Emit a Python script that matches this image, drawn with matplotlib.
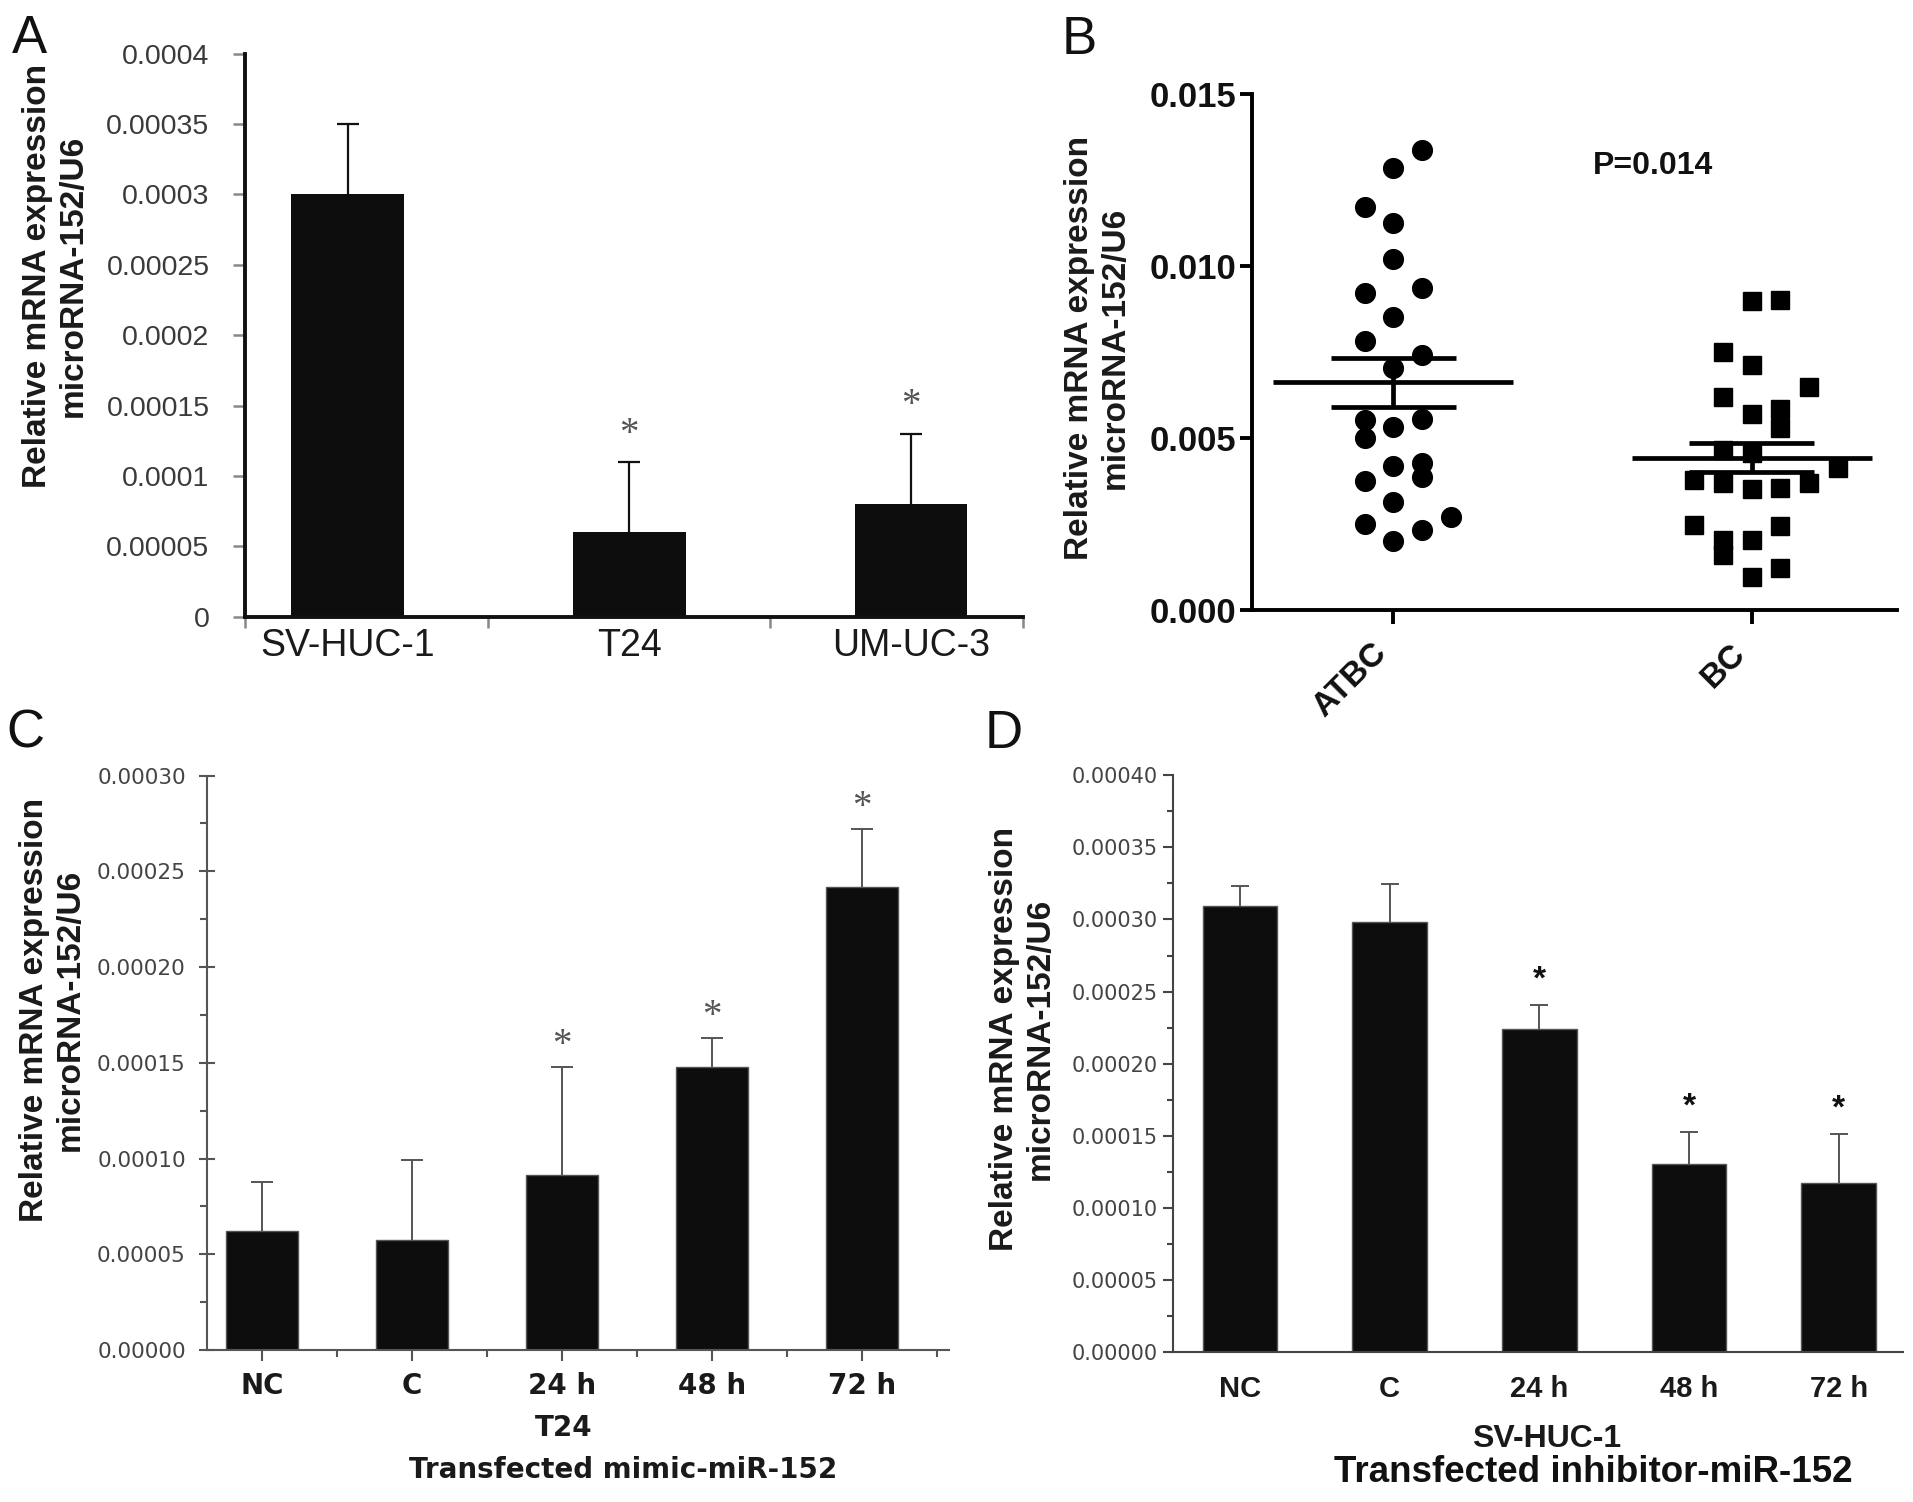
import matplotlib
matplotlib.use('Agg')
import matplotlib.pyplot as plt
import numpy as np
from matplotlib.textpath import TextPath
from matplotlib.font_manager import FontProperties
from matplotlib.ticker import FixedLocator

# ---------------- data ----------------
ylabel_text = 'Relative mRNA expression\nmicroRNA-152/U6'

# Panel A
a_cats = ['SV-HUC-1', 'T24', 'UM-UC-3']
a_vals = [0.00030, 0.00006, 0.00008]
a_err = [0.00005, 0.00005, 0.00005]
a_sig = ['', '*', '*']
a_yticks = [0, 0.00005, 0.0001, 0.00015, 0.0002, 0.00025, 0.0003, 0.00035, 0.0004]
a_yticklabels = ['0', '0.00005', '0.0001', '0.00015', '0.0002', '0.00025', '0.0003', '0.00035', '0.0004']

# Panel B
b_cats = ['ATBC', 'BC']
atbc_vals = [0.01338, 0.01284, 0.01172, 0.01124, 0.01021, 0.00921, 0.00935, 0.00851,
             0.00783, 0.00741, 0.00703, 0.00552, 0.00499, 0.00531, 0.00554, 0.00420,
             0.00428, 0.00386, 0.00375, 0.00315, 0.00249, 0.00271, 0.00234, 0.00202]
atbc_cols = [1, 0, -1, 0, 0, -1, 1, 0, -1, 1, 0, -1, -1, 0, 1, 0, 1, 1, -1, 0, -1, 2, 1, 0]
bc_vals = [0.00898, 0.00900, 0.00749, 0.00712, 0.00647, 0.00620, 0.00583, 0.00569,
           0.00528, 0.00465, 0.00455, 0.00412, 0.00378, 0.00368, 0.00351, 0.00354,
           0.00368, 0.00247, 0.00245, 0.00203, 0.00160, 0.00203, 0.00121, 0.00097]
bc_cols = [0, 1, -1, 0, 2, -1, 1, 0, 1, -1, 0, 3, -2, -1, 0, 1, 2, -2, 1, -1, -1, 0, 1, 0]
b_mean = [0.00662, 0.00443]
b_sem = [0.00071, 0.00043]
b_yticks = [0.000, 0.005, 0.010, 0.015]
b_yticklabels = ['0.000', '0.005', '0.010', '0.015']
b_ptext = 'P=0.014'

# Panel C
c_cats = ['NC', 'C', '24 h', '48 h', '72 h']
c_vals = [0.0000621, 0.0000576, 0.0000915, 0.0001477, 0.000242]
c_err = [0.0000256, 0.0000416, 0.0000562, 0.0000153, 0.0000300]
c_sig = ['', '', '*', '*', '*']
c_yticks = [0, 0.00005, 0.00010, 0.00015, 0.00020, 0.00025, 0.00030]
c_yticklabels = ['0.00000', '0.00005', '0.00010', '0.00015', '0.00020', '0.00025', '0.00030']
c_label1 = 'T24'
c_label2 = 'Transfected mimic-miR-152'

# Panel D
d_cats = ['NC', 'C', '24 h', '48 h', '72 h']
d_vals = [0.0003093, 0.0002980, 0.0002243, 0.0001307, 0.0001173]
d_err = [0.0000142, 0.0000265, 0.0000167, 0.0000220, 0.0000343]
d_sig = ['', '', '*', '*', '*']
d_yticks = [0, 0.00005, 0.00010, 0.00015, 0.00020, 0.00025, 0.00030, 0.00035, 0.00040]
d_yticklabels = ['0.00000', '0.00005', '0.00010', '0.00015', '0.00020', '0.00025',
                 '0.00030', '0.00035', '0.00040']
d_label1 = 'SV-HUC-1'
d_label2 = 'Transfected inhibitor-miR-152'

panel_letters = ['A', 'B', 'C', 'D']

# ---------------- layout ----------------
W, H = 1913, 1502
fig = plt.figure(figsize=(W / 100, H / 100), dpi=100)
SANS = 'Liberation Sans'
plt.rcParams['font.family'] = [SANS, 'DejaVu Sans']


def rect(l, r, t, b):
    return [l / W, 1 - b / H, (r - l) / W, (b - t) / H]


def fx(px):
    return px / W


def fy(py):
    return 1 - py / H


def star(ax, x, y, size, family, weight, color):
    fp = FontProperties(family=family, weight=weight, size=size)
    ext = TextPath((0, 0), '*', prop=fp).get_extents()
    cy = (ext.y0 + ext.y1) / 2.0
    ax.annotate('*', xy=(x, y), xytext=(0, -cy), textcoords='offset points',
                ha='center', va='baseline', fontproperties=fp, color=color,
                annotation_clip=False)


def upper_err(ax, x, vals, errs, color, lw, capsize):
    vals = np.asarray(vals)
    tops = vals + np.asarray(errs)
    ax.vlines(x, vals, tops, colors=color, lw=lw, zorder=1)
    ax.plot(x, tops, ls='none', marker='_', ms=2 * capsize, mew=lw, color=color, zorder=1)


# ======== Panel A ========
axA = fig.add_axes(rect(245, 1023, 53.7, 616.7))
xa = np.arange(len(a_cats))
axA.bar(xa, a_vals, width=0.4, color='#0d0d0d', zorder=2)
upper_err(axA, xa, a_vals, a_err, '#111111', 1.6, 8)
for i, s in enumerate(a_sig):
    if s:
        star(axA, xa[i], a_vals[i] + a_err[i] + 0.000026, 28, 'Liberation Serif', 'normal', '#555555')
axA.set_xlim(-0.364, 2.398)
axA.set_ylim(0, 0.0004)
for sp in ['top', 'right']:
    axA.spines[sp].set_visible(False)
for sp in ['left', 'bottom']:
    axA.spines[sp].set_linewidth(2.8)
    axA.spines[sp].set_color('#111111')
axA.set_yticks(a_yticks)
axA.set_yticklabels(a_yticklabels, fontsize=20.5, color='#3a3a3a')
axA.tick_params(axis='y', direction='out', length=8.5, width=1.8, color='#888888', pad=17)
axA.set_xticks(xa)
axA.set_xticklabels(a_cats, fontsize=27, color='#1a1a1a')
axA.tick_params(axis='x', which='major', length=0, pad=8)
axA.xaxis.set_minor_locator(FixedLocator([-0.364, 0.5, 1.5, 2.398]))
axA.tick_params(axis='x', which='minor', direction='out', length=8, width=1.8, color='#888888')
fig.text(fx(55.4), fy(276), ylabel_text, rotation=90, ha='center', va='center',
         multialignment='center', fontsize=24, fontweight='bold', color='#1a1a1a')

# ======== Panel B ========
axB = fig.add_axes(rect(1252, 1897, 94, 610))
col_step = 0.08
xb_atbc = [0 + c * col_step for c in atbc_cols]
xb_bc = [1 + c * col_step for c in bc_cols]
axB.plot(xb_atbc, atbc_vals, 'o', ms=14.2, color='black', mec='black', zorder=3, clip_on=False)
axB.plot(xb_bc, bc_vals, 's', ms=13.6, color='black', mec='black', zorder=3, clip_on=False)
for i in range(2):
    axB.hlines(b_mean[i], i - 0.335, i + 0.335, colors='black', lw=3.4, zorder=4)
    axB.hlines([b_mean[i] - b_sem[i], b_mean[i] + b_sem[i]], i - 0.174, i + 0.174,
               colors='black', lw=3.4, zorder=4)
    axB.vlines(i, b_mean[i] - b_sem[i], b_mean[i] + b_sem[i], colors='black', lw=3.4, zorder=4)
axB.set_xlim(-0.394, 1.405)
axB.set_ylim(0, 0.015)
for sp in ['top', 'right']:
    axB.spines[sp].set_visible(False)
for sp in ['left', 'bottom']:
    axB.spines[sp].set_linewidth(2.8)
    axB.spines[sp].set_color('black')
axB.set_yticks(b_yticks)
axB.set_yticklabels(b_yticklabels, fontsize=25, fontweight='bold', color='#111111')
axB.tick_params(axis='y', direction='out', length=9, width=2.8, pad=2)
axB.set_xticks([0, 1])
axB.set_xticklabels(b_cats, fontsize=24, fontweight='bold', rotation=45, ha='right',
                    va='top', color='#111111')
axB.tick_params(axis='x', direction='out', length=10, width=2.8, pad=10)
axB.text(0.7235, 0.0129, b_ptext, ha='center', va='center', fontsize=23,
         fontweight='bold', color='#111111')
fig.text(fx(1097.8), fy(347.6), ylabel_text, rotation=90, ha='center', va='center',
         multialignment='center', fontsize=24, fontweight='bold', color='#1a1a1a')

# ======== Panel C ========
axC = fig.add_axes(rect(206.7, 949, 775.6, 1350))
xc = np.arange(len(c_cats))
axC.bar(xc, c_vals, width=0.48, color='#0d0d0d', edgecolor='#555555', lw=1, zorder=2)
upper_err(axC, xc, c_vals, c_err, '#555555', 1.4, 8)
for i, s in enumerate(c_sig):
    if s:
        star(axC, xc[i], c_vals[i] + c_err[i] + 0.000016, 28, 'Liberation Serif', 'normal', '#555555')
axC.set_xlim(-0.37, 4.58)
axC.set_ylim(0, 0.0003)
for sp in ['top', 'right']:
    axC.spines[sp].set_visible(False)
for sp in ['left', 'bottom']:
    axC.spines[sp].set_linewidth(1.5)
    axC.spines[sp].set_color('#555555')
axC.set_yticks(c_yticks)
axC.set_yticklabels(c_yticklabels, fontsize=15.5, color='#444444', family='DejaVu Sans')
axC.yaxis.set_minor_locator(FixedLocator(np.array(c_yticks[:-1]) + 0.000025))
axC.tick_params(axis='y', which='major', direction='inout', length=12, width=1.5,
                color='#555555', pad=9)
axC.tick_params(axis='y', which='minor', direction='out', length=5, width=1.5, color='#555555')
axC.set_xticks(xc)
axC.set_xticklabels(c_cats, fontsize=20, fontweight='bold', color='#1a1a1a', family='DejaVu Sans')
axC.xaxis.set_minor_locator(FixedLocator(xc + 0.5))
axC.tick_params(axis='x', which='major', direction='out', length=8, width=1.5,
                color='#555555', pad=8)
axC.tick_params(axis='x', which='minor', direction='out', length=5, width=1.5, color='#555555')
fig.text(fx(564), fy(1427.8), c_label1, ha='center', va='center', fontsize=20,
         fontweight='bold', color='#1a1a1a', family='DejaVu Sans')
fig.text(fx(623), fy(1470), c_label2, ha='center', va='center', fontsize=20,
         fontweight='bold', color='#1a1a1a', family='DejaVu Sans')
fig.text(fx(52), fy(1010), ylabel_text, rotation=90, ha='center', va='center',
         multialignment='center', fontsize=24, fontweight='bold', color='#1a1a1a')

# ======== Panel D ========
axD = fig.add_axes(rect(1173.3, 1903, 775.2, 1352.3))
xd = np.arange(len(d_cats))
axD.bar(xd, d_vals, width=0.5, color='#0d0d0d', edgecolor='#555555', lw=1, zorder=2)
upper_err(axD, xd, d_vals, d_err, '#555555', 1.4, 6.5)
for i, s in enumerate(d_sig):
    if s:
        star(axD, xd[i], d_vals[i] + d_err[i] + 0.000023, 24, SANS, 'bold', '#111111')
axD.set_xlim(-0.446, 4.43)
axD.set_ylim(0, 0.0004)
for sp in ['top', 'right']:
    axD.spines[sp].set_visible(False)
for sp in ['left', 'bottom']:
    axD.spines[sp].set_linewidth(1.5)
    axD.spines[sp].set_color('#444444')
axD.set_yticks(d_yticks)
axD.set_yticklabels(d_yticklabels, fontsize=15, color='#444444', family='DejaVu Sans')
axD.yaxis.set_minor_locator(FixedLocator(np.array(d_yticks[:-1]) + 0.000025))
axD.tick_params(axis='y', which='major', direction='out', length=7, width=1.5,
                color='#444444', pad=4)
axD.tick_params(axis='y', which='minor', direction='out', length=4, width=1.5, color='#444444')
axD.set_xticks(xd)
axD.set_xticklabels(d_cats, fontsize=21, fontweight='bold', color='#1a1a1a')
axD.tick_params(axis='x', which='major', length=0, pad=16)
fig.text(fx(1546.4), fy(1438.7), d_label1, ha='center', va='center', fontsize=23,
         fontweight='bold', color='#1a1a1a')
fig.text(fx(1593.8), fy(1473), d_label2, ha='center', va='center', fontsize=26.5,
         fontweight='bold', color='#111111')
fig.text(fx(1022), fy(1038.7), ylabel_text, rotation=90, ha='center', va='center',
         multialignment='center', fontsize=24, fontweight='bold', color='#1a1a1a')

# ======== panel letters ========
letter_pos = [(12, 53), (1062, 54), (6, 748), (985, 748)]
for letter, (lx, ly) in zip(panel_letters, letter_pos):
    fig.text(fx(lx), fy(ly), letter, ha='left', va='baseline', fontsize=38, color='#111111')

fig.savefig('out.png', dpi=100)
